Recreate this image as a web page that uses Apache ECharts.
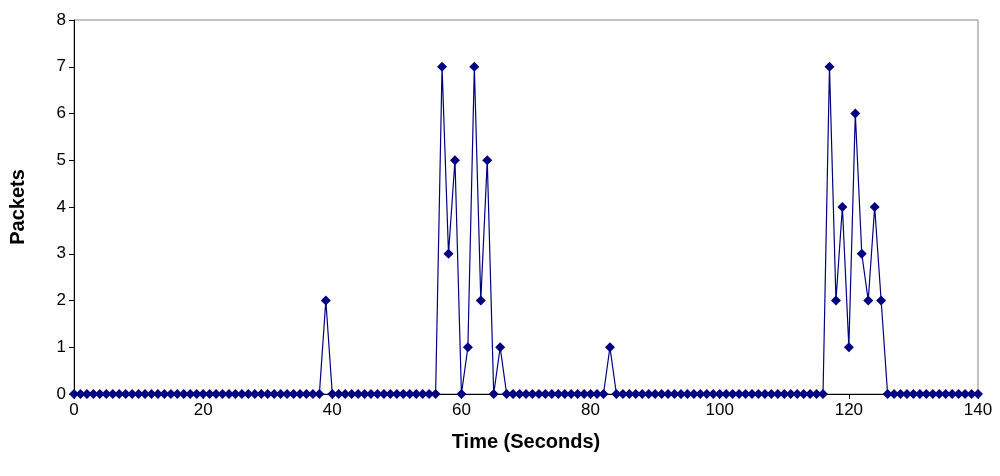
<!DOCTYPE html>
<html>
<head>
<meta charset="utf-8">
<script src="https://cdn.jsdelivr.net/npm/echarts@6/dist/echarts.min.js"></script>
<style>body{margin:0;background:#fff}#main{width:1000px;height:476px}</style>
</head>
<body>
<div id="main"></div>
<script>
// seconds 0..140, packets per second
var times = [];
for (var t = 0; t <= 140; t++) times.push(t);
var spikeTimes  = [39, 57, 58, 59, 60, 61, 62, 63, 64, 65, 66, 83, 117, 118, 119, 120, 121, 122, 123, 124, 125, 126];
var spikeValues = [2,  7,  3,  5,  0,  1,  7,  2,  5,  0,  1,  1,  7,   2,   4,   1,   6,   3,   2,   4,   2,   0];
var packets = times.map(function (t) {
	var i = spikeTimes.indexOf(t);
	return i < 0 ? 0 : spikeValues[i];
});
var seriesData = times.map(function (t, i) { return [t, packets[i]]; });

var chart = echarts.init(document.getElementById('main'));
chart.setOption({
	animation: false,
	grid: { left: 74, right: 22, top: 20, bottom: 82, show: true, borderColor: '#888', borderWidth: 1 },
	xAxis: {
		type: 'value', min: 0, max: 140, interval: 20,
		name: 'Time (Seconds)', nameLocation: 'middle', nameGap: 38,
		nameTextStyle: { fontFamily: 'Liberation Sans', fontWeight: 'bold', fontSize: 20, color: '#000' },
		axisLine: { lineStyle: { color: '#000' } },
		axisTick: { show: true, inside: false, length: 5, lineStyle: { color: '#000' } },
		axisLabel: { fontFamily: 'Liberation Sans', fontSize: 17, color: '#000' },
		splitLine: { show: false }
	},
	yAxis: {
		type: 'value', min: 0, max: 8, interval: 1,
		name: 'Packets', nameLocation: 'middle', nameGap: 46,
		nameTextStyle: { fontFamily: 'Liberation Sans', fontWeight: 'bold', fontSize: 20, color: '#000' },
		axisLine: { show: true, lineStyle: { color: '#000' } },
		axisTick: { show: true, length: 5, lineStyle: { color: '#000' } },
		axisLabel: { fontFamily: 'Liberation Sans', fontSize: 17, color: '#000' },
		splitLine: { show: false }
	},
	series: [{
		type: 'line',
		data: seriesData,
		symbol: 'diamond',
		symbolSize: 10,
		itemStyle: { color: '#000080' },
		lineStyle: { color: '#000080', width: 1.2 }
	}]
});
</script>
</body>
</html>
